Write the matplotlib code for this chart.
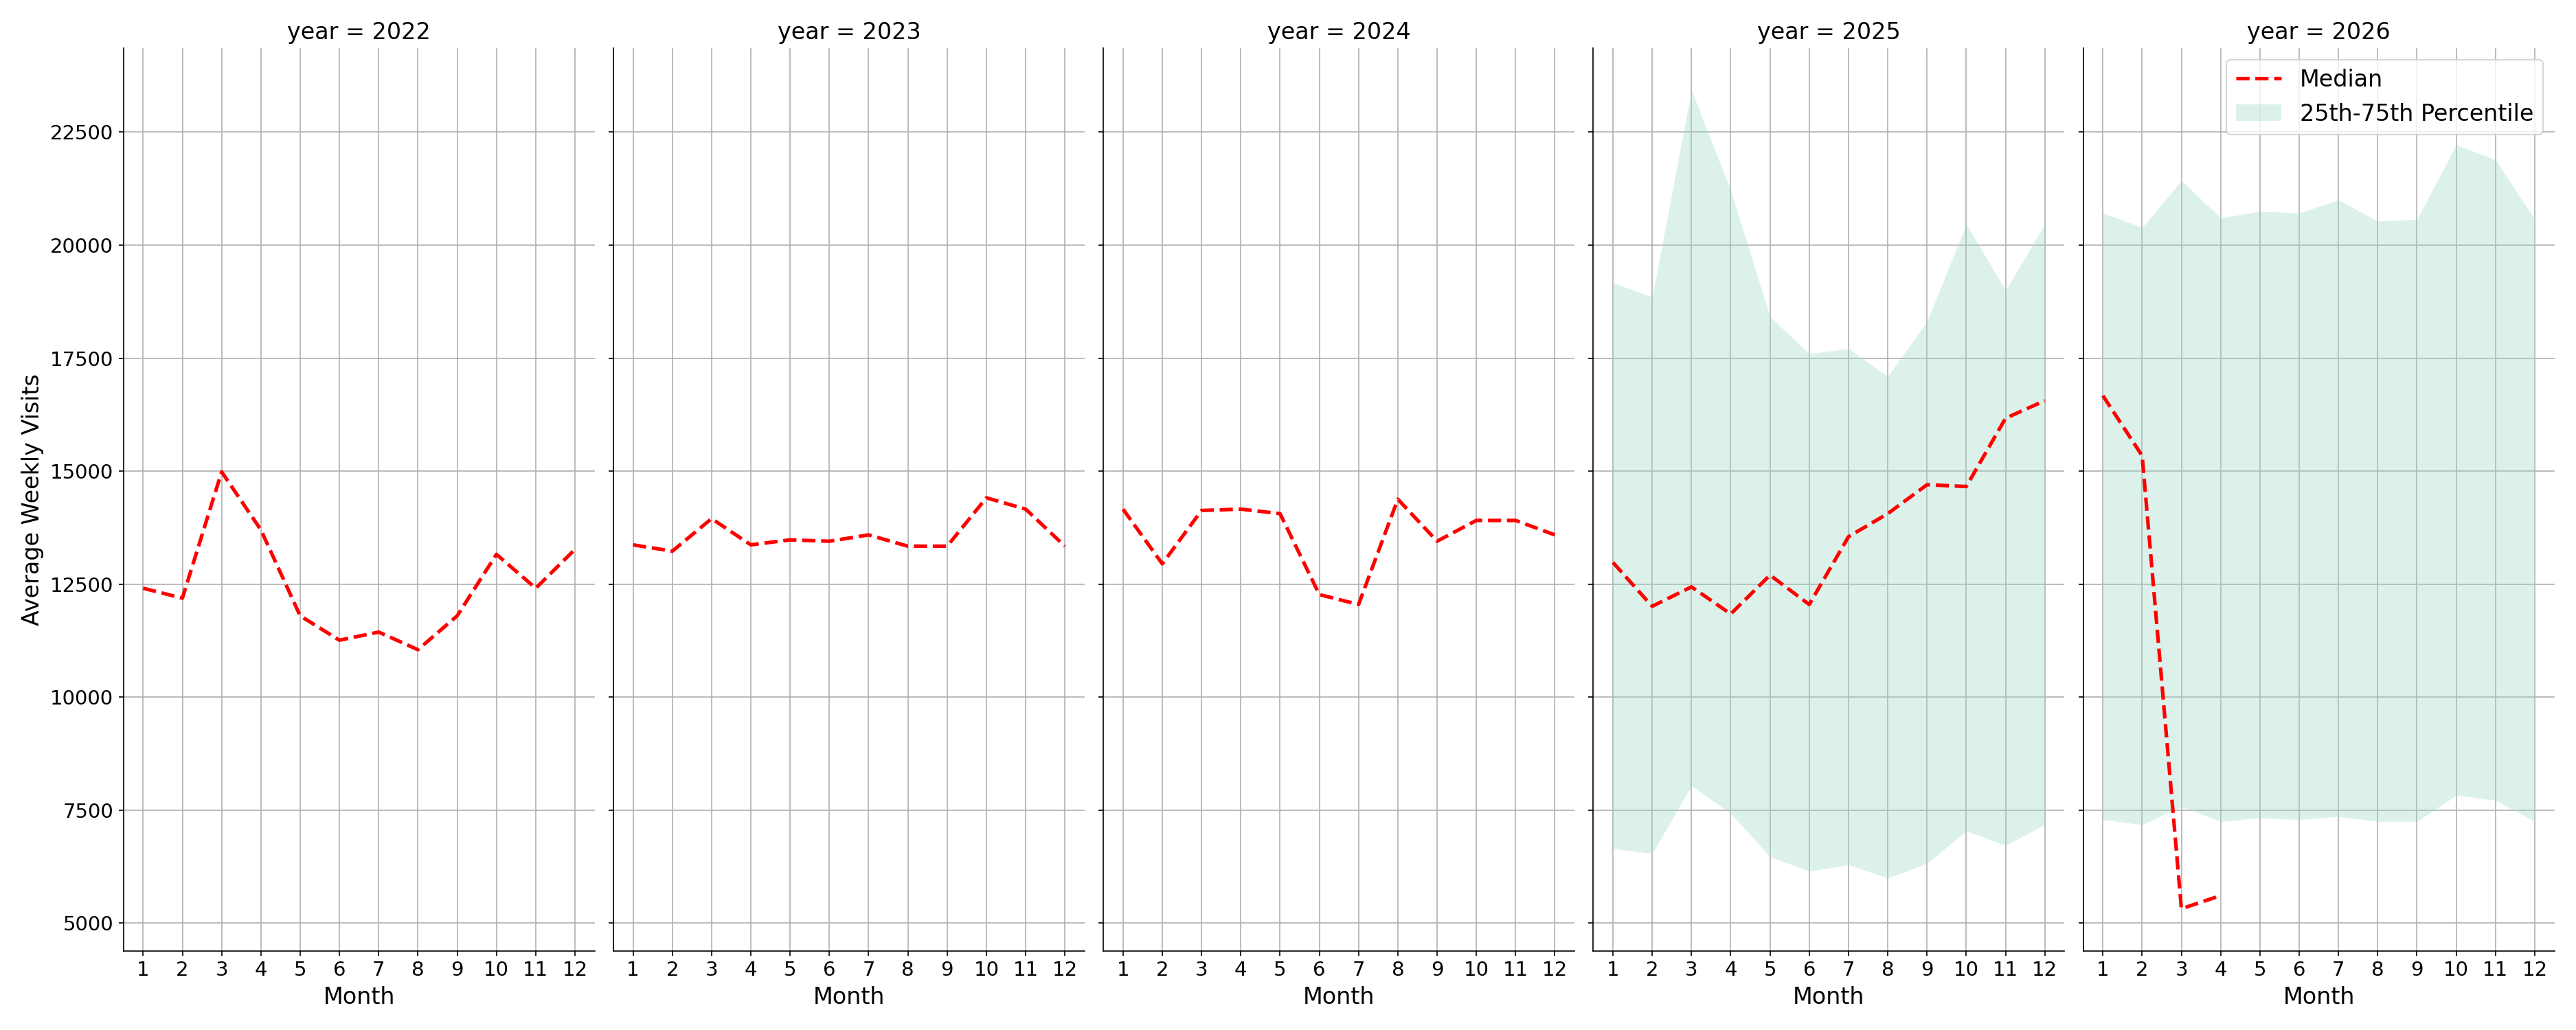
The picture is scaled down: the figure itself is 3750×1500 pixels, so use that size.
import matplotlib.pyplot as plt
import numpy as np

months = list(range(1, 13))
years = [2022, 2023, 2024, 2025, 2026]

median_2022 = [12410, 12190, 14985, 13700, 11800, 11260, 11440, 11050, 11800, 13160, 12410, 13270]
median_2023 = [13370, 13230, 13950, 13370, 13480, 13450, 13590, 13340, 13340, 14410, 14160, 13340]
median_2024 = [14160, 12950, 14130, 14160, 14060, 12270, 12050, 14380, 13450, 13910, 13910, 13590]
median_2025 = [12980, 12010, 12440, 11840, 12700, 12050, 13550, 14060, 14700, 14660, 16170, 16560]
median_2026 = [16670, 15340, 5320, 5610]

upper_2025 = [19170, 18850, 23430, 21210, 18420, 17600, 17710, 17100, 18310, 20460, 19000, 20460]
lower_2025 = [6650, 6540, 8040, 7430, 6470, 6150, 6290, 6000, 6320, 7040, 6720, 7180]
upper_2026 = [20710, 20390, 21430, 20600, 20750, 20710, 21000, 20530, 20570, 22220, 21890, 20570]
lower_2026 = [7290, 7180, 7580, 7250, 7330, 7290, 7360, 7250, 7250, 7830, 7720, 7250]

medians = {2022: median_2022, 2023: median_2023, 2024: median_2024,
           2025: median_2025, 2026: median_2026}
bands = {2025: (lower_2025, upper_2025), 2026: (lower_2026, upper_2026)}

plt.rcParams['font.size'] = 14
fig, axes = plt.subplots(1, 5, figsize=(25, 10), dpi=150, sharey=True)

for ax, year in zip(axes, years):
    med = medians[year]
    ax.plot(months[:len(med)], med, color='red', linestyle='--', linewidth=2.5, label='Median')
    if year in bands:
        lo, hi = bands[year]
        ax.fill_between(months, lo, hi, color='#9fd9c6', alpha=0.35, linewidth=0,
                        label='25th-75th Percentile')
    ax.set_title(f'year = {year}', fontsize=16)
    ax.set_xlabel('Month', fontsize=16)
    ax.set_xticks(months)
    ax.set_xlim(0.5, 12.5)
    ax.grid(True, color='#b0b0b0', linewidth=0.8)
    ax.set_axisbelow(True)
    ax.spines['top'].set_visible(False)
    ax.spines['right'].set_visible(False)

axes[0].set_ylim(4390, 24360)
axes[0].set_yticks([5000, 7500, 10000, 12500, 15000, 17500, 20000, 22500])
axes[0].set_ylabel('Average Weekly Visits', fontsize=16)
axes[-1].legend(loc='upper right', fontsize=16)

plt.tight_layout()
plt.subplots_adjust(wspace=0.04)
plt.savefig('out.png')
